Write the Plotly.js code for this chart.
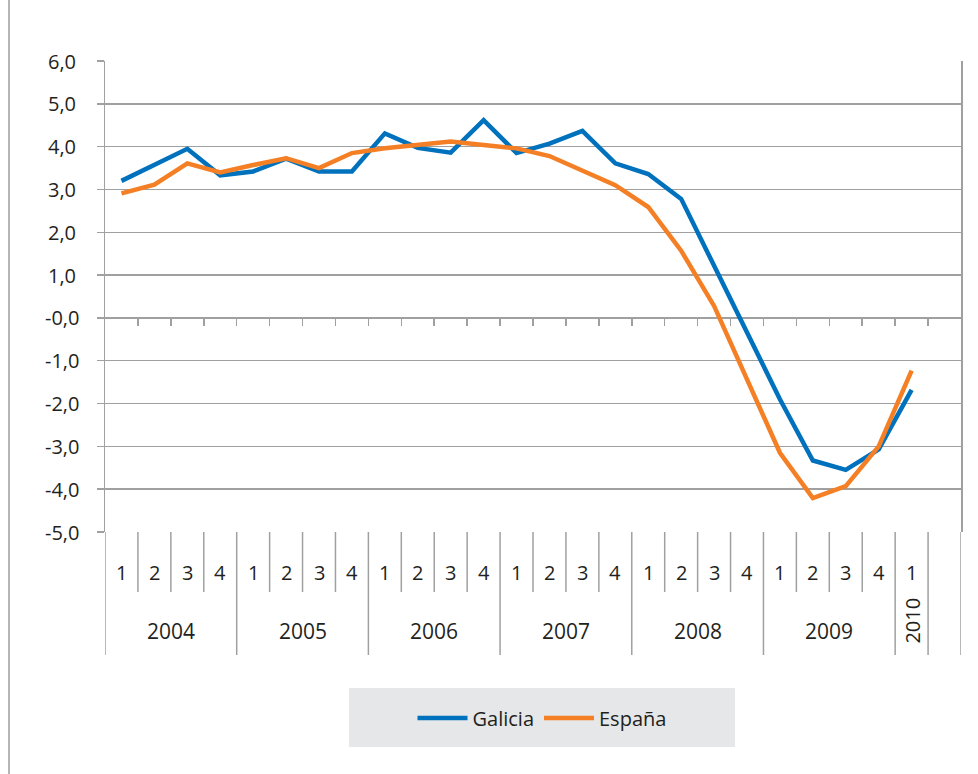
<!DOCTYPE html>
<html>
<head>
<meta charset="utf-8">
<script src="https://cdn.plot.ly/plotly-3.0.1.min.js"></script>
<style>html,body{margin:0;padding:0;background:#fff;}#chart{width:978px;height:774px;}</style>
</head>
<body>
<div id="chart"></div>
<script>
// ---- data ----
const quarters = ['1','2','3','4','1','2','3','4','1','2','3','4','1','2','3','4','1','2','3','4','1','2','3','4','1'];
const years = ['2004','2005','2006','2007','2008','2009','2010'];
const quartersPerYear = [4,4,4,4,4,4,1];
const galicia = [3.20,3.58,3.95,3.33,3.42,3.72,3.42,3.42,4.31,3.97,3.86,4.62,3.85,4.07,4.37,3.61,3.36,2.78,1.20,-0.35,-1.90,-3.33,-3.55,-3.07,-1.68];
const espana  = [2.91,3.11,3.61,3.40,3.57,3.73,3.50,3.85,3.96,4.04,4.12,4.04,3.96,3.78,3.45,3.10,2.59,1.57,0.28,-1.45,-3.15,-4.21,-3.93,-3.00,-1.23];
const yTickVals = [6,5,4,3,2,1,0,-1,-2,-3,-4,-5];
const yTickText = ['6,0','5,0','4,0','3,0','2,0','1,0','-0,0','-1,0','-2,0','-3,0','-4,0','-5,0'];
const seriesNames = ['Galicia','España'];

// ---- layout helpers ----
const W = 978, H = 774;
const M = {l:105, r:17, t:61, b:242};
const plotW = W - M.l - M.r, plotH = H - M.t - M.b;
const py = px => (H - M.b - px) / plotH;   // page px (from top) -> paper y
const pxX = px => (px - M.l) / plotW;      // page px (from left) -> paper x
const nSlots = quarters.length + 1;        // one empty slot at the end
const xIdx = quarters.map((_, i) => i);
const grid = '#a0a0a0';
const txt = '#231f20';
const FONT = 'Open Sans, Noto Sans, sans-serif';
const FS = 20;

const traces = [
  {x: xIdx, y: galicia, name: seriesNames[0], type: 'scatter', mode: 'lines',
   line: {color: '#0071bc', width: 4.5}, hoverinfo: 'skip'},
  {x: xIdx, y: espana, name: seriesNames[1], type: 'scatter', mode: 'lines',
   line: {color: '#f47f24', width: 4.5}, hoverinfo: 'skip'},
  {x: [], y: [], xaxis: 'x2', showlegend: false, hoverinfo: 'skip', type: 'scatter', mode: 'lines'}
];

const shapes = [];
const annotations = [];

// year boundaries (slot indices)
const yearStarts = [];
let acc = 0;
quartersPerYear.forEach(n => { yearStarts.push(acc); acc += n; });
const yearBoundary = new Set([...yearStarts, acc]);
for (let k = 0; k <= nSlots; k++) {
  const isYear = yearBoundary.has(k) || k >= acc;
  shapes.push({type: 'line', xref: 'x', yref: 'paper', x0: k - 0.5, x1: k - 0.5,
    y0: 0, y1: isYear ? py(655) : py(592), line: {color: grid, width: 1.5}, layer: 'below'});
}
// quarter labels
quarters.forEach((q, i) => annotations.push({xref: 'x', yref: 'paper', x: i, y: py(572),
  text: q, showarrow: false, xanchor: 'center', yanchor: 'middle', font: {family: FONT, size: FS, color: txt}}));
// year labels
years.forEach((yr, j) => {
  const n = quartersPerYear[j];
  const c = yearStarts[j] + (n - 1) / 2;
  if (n === 1) {
    annotations.push({xref: 'x', yref: 'paper', x: c, y: py(621), text: yr, textangle: -90,
      showarrow: false, xanchor: 'center', yanchor: 'middle', font: {family: FONT, size: FS, color: txt}});
  } else {
    annotations.push({xref: 'x', yref: 'paper', x: c, y: py(631), text: yr,
      showarrow: false, xanchor: 'center', yanchor: 'middle', font: {family: FONT, size: FS + 1, color: txt}});
  }
});
// y tick labels (centred)
yTickVals.forEach((v, i) => annotations.push({xref: 'paper', yref: 'y', x: pxX(62), y: v,
  text: yTickText[i], showarrow: false, xanchor: 'center', yanchor: 'middle', font: {family: FONT, size: FS, color: txt}}));

// legend box
shapes.push({type: 'rect', xref: 'paper', yref: 'paper', x0: pxX(349), x1: pxX(735), y0: py(747), y1: py(688),
  fillcolor: '#e6e7e8', line: {width: 0}, layer: 'below'});
// outer frame line at left
shapes.push({type: 'line', xref: 'paper', yref: 'paper', x0: pxX(9), x1: pxX(9), y0: py(774), y1: py(0),
  line: {color: '#b5b5b5', width: 2}});

const layout = {
  width: W, height: H,
  margin: M,
  paper_bgcolor: '#ffffff', plot_bgcolor: '#ffffff',
  showlegend: true,
  legend: {orientation: 'h', x: pxX(542), xanchor: 'center', y: py(718), yanchor: 'middle',
    bgcolor: 'rgba(0,0,0,0)', font: {family: FONT, size: 20, color: txt}, itemwidth: 50},
  xaxis: {range: [-0.5, nSlots - 0.5], showgrid: false, zeroline: false, showline: false,
    showticklabels: false, ticks: '', fixedrange: true},
  xaxis2: {overlaying: 'x', anchor: 'free', position: (0 - (-5)) / 11, side: 'bottom',
    range: [-0.5, nSlots - 0.5], tickmode: 'array',
    tickvals: Array.from({length: nSlots - 1}, (_, k) => k + 0.5),
    ticks: 'outside', ticklen: 7, tickwidth: 1.5, tickcolor: grid,
    showticklabels: false, showgrid: false, zeroline: false, showline: false},
  yaxis: {range: [-5, 6], tickmode: 'array', tickvals: yTickVals, ticktext: yTickText,
    showticklabels: false, showgrid: true, gridcolor: grid, gridwidth: 1.5, zeroline: false,
    showline: true, linecolor: grid, linewidth: 1.5, mirror: true,
    ticks: 'outside', ticklen: 7, tickwidth: 1.5, tickcolor: grid},
  shapes: shapes,
  annotations: annotations
};

Plotly.newPlot('chart', traces, layout, {staticPlot: true, displayModeBar: false});
</script>
</body>
</html>
